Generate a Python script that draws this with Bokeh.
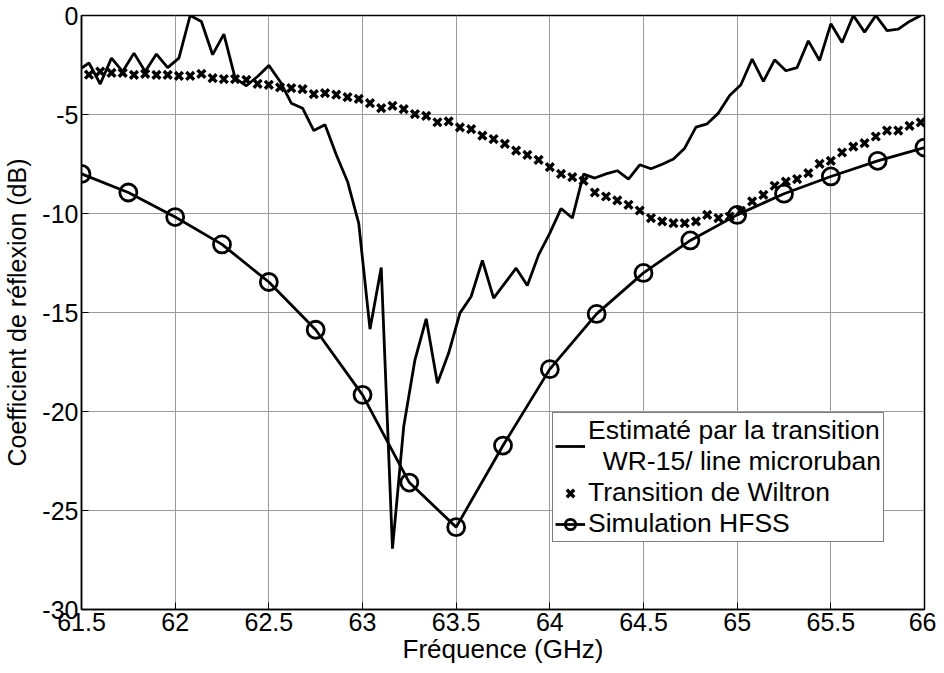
from bokeh.plotting import figure
from bokeh.models import FixedTicker, Range1d, Legend, LegendItem
from bokeh.embed import file_html
from bokeh.resources import INLINE

# ---- data ----
freq_est = [61.50, 61.54, 61.60, 61.66, 61.72, 61.78, 61.84, 61.90, 61.96, 62.02,
            62.08, 62.14, 62.20, 62.26, 62.32, 62.38, 62.44, 62.50, 62.56, 62.62,
            62.68, 62.74, 62.80, 62.86, 62.92, 62.98, 63.04, 63.10, 63.16, 63.22,
            63.28, 63.34, 63.40, 63.46, 63.52, 63.58, 63.64, 63.70, 63.76, 63.82,
            63.88, 63.94, 64.00, 64.06, 64.12, 64.18, 64.24, 64.30, 64.36, 64.42,
            64.48, 64.54, 64.60, 64.66, 64.72, 64.78, 64.84, 64.90, 64.96, 65.02,
            65.08, 65.14, 65.20, 65.26, 65.32, 65.38, 65.44, 65.50, 65.56, 65.62,
            65.68, 65.74, 65.80, 65.86, 65.92, 65.98]
s11_est = [-2.66, -2.40, -3.46, -2.15, -2.83, -1.90, -2.83, -1.95, -2.63, -2.15,
           0.00, -0.30, -1.98, -0.94, -3.16, -3.55, -3.08, -2.52, -3.33, -4.43,
           -4.68, -5.81, -5.52, -7.03, -8.38, -10.50, -15.84, -12.73, -26.93, -20.76,
           -17.39, -15.32, -18.57, -17.05, -15.03, -14.19, -12.37, -14.27, -13.52, -12.76,
           -13.64, -12.09, -10.99, -9.75, -10.23, -8.01, -8.21, -8.00, -7.84, -8.26,
           -7.54, -7.74, -7.51, -7.25, -6.70, -5.64, -5.47, -4.93, -4.04, -3.50,
           -2.20, -3.33, -2.24, -2.79, -2.63, -1.28, -2.27, -0.42, -1.36, 0.00,
           -0.84, 0.00, -0.76, -0.69, -0.30, 0.00]

freq_wil = [61.54, 61.60, 61.66, 61.72, 61.78, 61.84, 61.90, 61.96, 62.02, 62.08,
            62.14, 62.20, 62.26, 62.32, 62.38, 62.44, 62.50, 62.56, 62.62, 62.68,
            62.74, 62.80, 62.86, 62.92, 62.98, 63.04, 63.10, 63.16, 63.22, 63.28,
            63.34, 63.40, 63.46, 63.52, 63.58, 63.64, 63.70, 63.76, 63.82, 63.88,
            63.94, 64.00, 64.06, 64.12, 64.18, 64.24, 64.30, 64.36, 64.42, 64.48,
            64.54, 64.60, 64.66, 64.72, 64.78, 64.84, 64.90, 64.96, 65.02, 65.08,
            65.14, 65.20, 65.26, 65.32, 65.38, 65.44, 65.50, 65.56, 65.62, 65.68,
            65.74, 65.80, 65.86, 65.92, 65.98]
s11_wil = [-2.99, -2.83, -2.90, -2.90, -3.00, -2.95, -3.00, -3.00, -3.05, -3.05,
           -2.95, -3.16, -3.21, -3.21, -3.25, -3.45, -3.50, -3.63, -3.67, -3.72,
           -3.97, -3.92, -4.00, -4.12, -4.21, -4.43, -4.68, -4.56, -4.73, -4.98,
           -5.07, -5.39, -5.35, -5.65, -5.74, -6.07, -6.24, -6.48, -6.82, -7.04,
           -7.29, -7.66, -8.00, -8.16, -8.35, -8.94, -9.14, -9.34, -9.56, -9.85,
           -10.23, -10.40, -10.49, -10.49, -10.40, -10.07, -10.23, -10.15, -9.87, -9.39,
           -9.06, -8.60, -8.39, -8.26, -7.96, -7.49, -7.34, -6.92, -6.62, -6.45,
           -6.11, -5.81, -5.81, -5.57, -5.40]

freq_hfss = [61.5, 61.75, 62.0, 62.25, 62.5, 62.75, 63.0, 63.25, 63.5, 63.75,
             64.0, 64.25, 64.5, 64.75, 65.0, 65.25, 65.5, 65.75, 66.0]
s11_hfss = [-8.00, -8.94, -10.18, -11.56, -13.46, -15.87, -19.16, -23.59, -25.84, -21.72,
            -17.86, -15.07, -13.00, -11.36, -10.07, -9.00, -8.13, -7.34, -6.67]

x_ticks = [61.5, 62, 62.5, 63, 63.5, 64, 64.5, 65, 65.5, 66]
x_tick_labels = ["61.5", "62", "62.5", "63", "63.5", "64", "64.5", "65", "65.5", "66"]
y_ticks = [-30, -25, -20, -15, -10, -5, 0]
y_tick_labels = ["-30", "-25", "-20", "-15", "-10", "-5", "0"]

label_est = "Estimaté par la transition\n  WR-15/ line microruban"
label_wil = "Transition de Wiltron"
label_hfss = "Simulation HFSS"

FONT = "Liberation Sans"

p = figure(frame_width=843, frame_height=594,
           x_range=Range1d(61.5, 66), y_range=Range1d(-30, 0),
           output_backend="svg", toolbar_location=None,
           min_border_left=75, min_border_top=15, min_border_right=12,
           min_border_bottom=0, background_fill_color="white",
           border_fill_color="white")

p.outline_line_color = "black"
p.outline_line_width = 1.5

for ax, ticks, labels in ((p.xaxis[0], x_ticks, x_tick_labels), (p.yaxis[0], y_ticks, y_tick_labels)):
    ax.ticker = FixedTicker(ticks=ticks)
    ax.major_label_overrides = {t: l for t, l in zip(ticks, labels)}
    ax.major_tick_in = 7
    ax.major_tick_out = 0
    ax.minor_tick_line_color = None
    ax.axis_line_color = "black"
    ax.axis_line_width = 1.5
    ax.major_tick_line_width = 1
    ax.major_label_text_font = FONT
    ax.major_label_text_font_size = "25px"
    ax.major_label_text_color = "black"
    ax.major_label_standoff = 3
    ax.axis_label_text_font = FONT
    ax.axis_label_text_font_style = "normal"
    ax.axis_label_text_color = "black"

p.xaxis.axis_label = "Fréquence (GHz)"
p.xaxis.axis_label_text_font_size = "26px"
p.xaxis.axis_label_standoff = 0
p.yaxis.axis_label = "Coefficient de réflexion (dB)"
p.yaxis.axis_label_text_font_size = "25px"
p.yaxis.axis_label_standoff = 8

p.xgrid.ticker = FixedTicker(ticks=x_ticks)
p.ygrid.ticker = FixedTicker(ticks=y_ticks)
p.grid.grid_line_color = "#9a9a9a"
p.grid.grid_line_width = 1

r_est = p.line(freq_est, s11_est, line_color="black", line_width=2.8)
r_wil = p.scatter(freq_wil, s11_wil, marker="x", size=11, line_color="black", line_width=3.4)
r_hl = p.line(freq_hfss, s11_hfss, line_color="black", line_width=2.8)
r_hc = p.scatter(freq_hfss, s11_hfss, marker="circle", size=17, line_color="black",
                 line_width=2.8, fill_color=None)

legend = Legend(items=[LegendItem(label=label_est, renderers=[r_est]),
                       LegendItem(label=label_wil, renderers=[r_wil]),
                       LegendItem(label=label_hfss, renderers=[r_hl, r_hc])],
                location=(471, 67))
legend.label_text_font = FONT
legend.label_text_font_size = "26.5px"
legend.label_text_color = "black"
legend.label_standoff = 3
legend.glyph_width = 30
legend.glyph_height = 26
legend.spacing = 0
legend.padding = 2
legend.margin = 0
legend.label_height = 26
legend.border_line_color = "black"
legend.border_line_width = 1.2
legend.background_fill_color = "white"
legend.background_fill_alpha = 1
p.add_layout(legend, "center")

open("out.html", "w").write(file_html(p, INLINE))
